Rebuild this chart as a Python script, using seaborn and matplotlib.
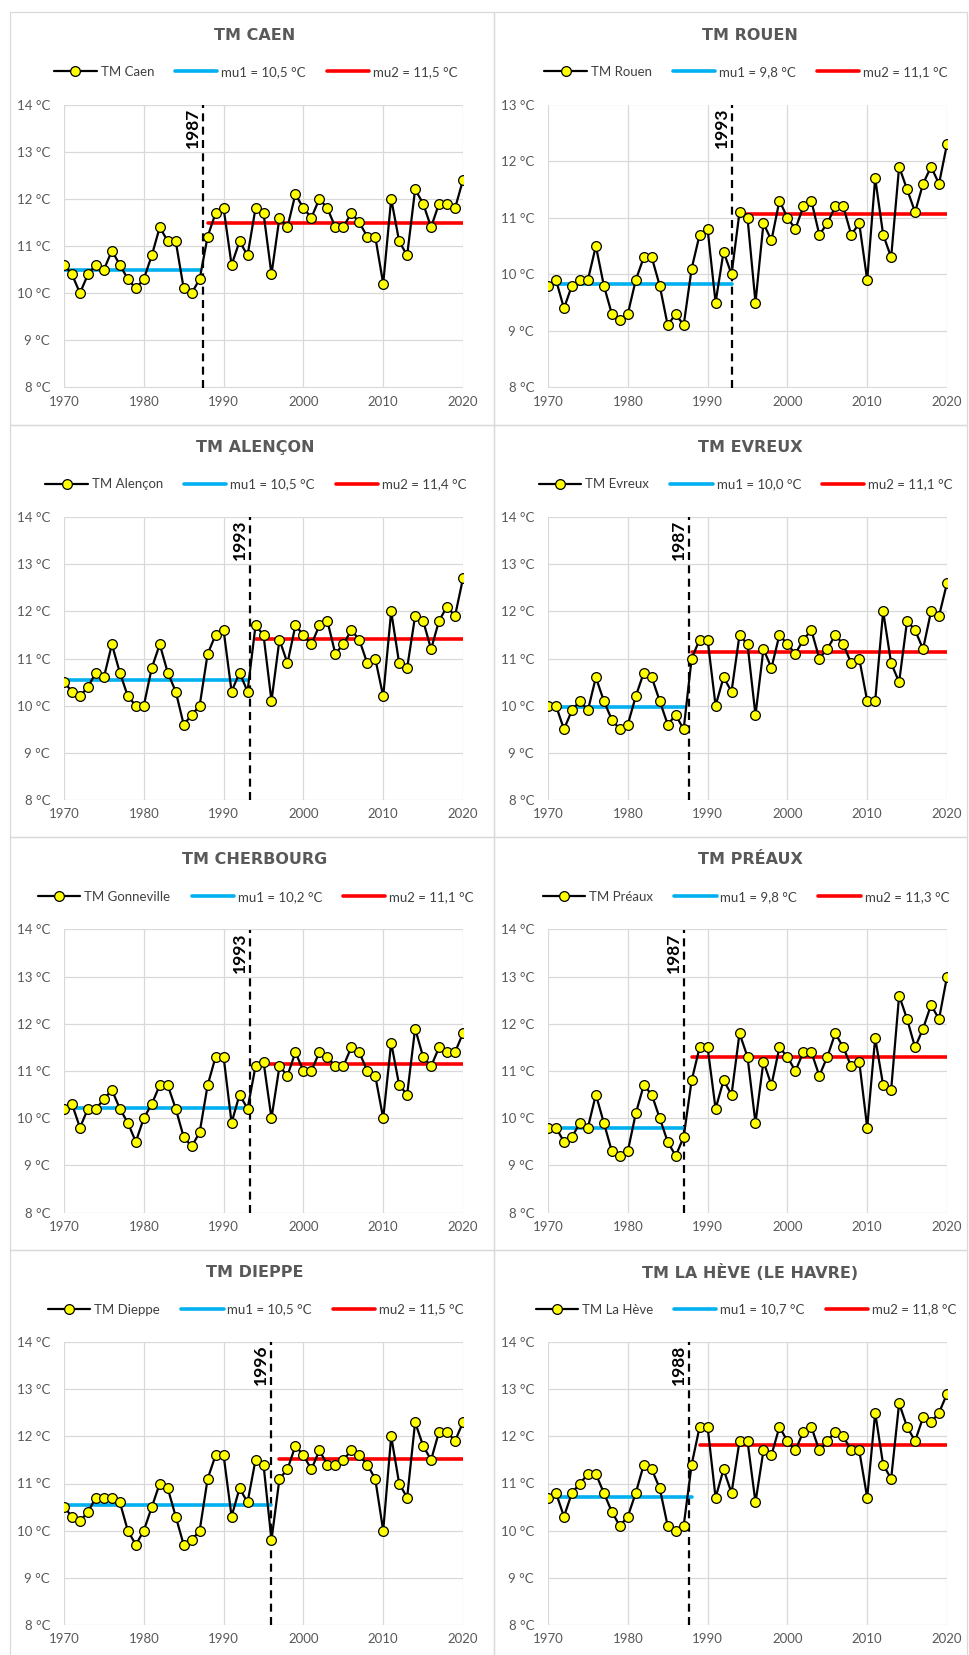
import matplotlib
matplotlib.use("Agg")
import matplotlib.pyplot as plt
import seaborn as sns
from matplotlib.lines import Line2D
from matplotlib.patches import Rectangle

# Températures moyennes annuelles, stations de Normandie
annees = list(range(1970, 2021))

titres = ["TM CAEN", "TM ROUEN", "TM ALENÇON", "TM EVREUX",
          "TM CHERBOURG", "TM PRÉAUX", "TM DIEPPE", "TM LA HÈVE (LE HAVRE)"]
stations = ["TM Caen", "TM Rouen", "TM Alençon", "TM Evreux",
            "TM Gonneville", "TM Préaux", "TM Dieppe", "TM La Hève"]

tm_caen = [10.6, 10.4, 10.0, 10.4, 10.6, 10.5, 10.9, 10.6, 10.3, 10.1,
           10.3, 10.8, 11.4, 11.1, 11.1, 10.1, 10.0, 10.3, 11.2, 11.7,
           11.8, 10.6, 11.1, 10.8, 11.8, 11.7, 10.4, 11.6, 11.4, 12.1,
           11.8, 11.6, 12.0, 11.8, 11.4, 11.4, 11.7, 11.5, 11.2, 11.2,
           10.2, 12.0, 11.1, 10.8, 12.2, 11.9, 11.4, 11.9, 11.9, 11.8,
           12.4]
tm_rouen = [9.8, 9.9, 9.4, 9.8, 9.9, 9.9, 10.5, 9.8, 9.3, 9.2,
            9.3, 9.9, 10.3, 10.3, 9.8, 9.1, 9.3, 9.1, 10.1, 10.7,
            10.8, 9.5, 10.4, 10.0, 11.1, 11.0, 9.5, 10.9, 10.6, 11.3,
            11.0, 10.8, 11.2, 11.3, 10.7, 10.9, 11.2, 11.2, 10.7, 10.9,
            9.9, 11.7, 10.7, 10.3, 11.9, 11.5, 11.1, 11.6, 11.9, 11.6,
            12.3]
tm_alencon = [10.5, 10.3, 10.2, 10.4, 10.7, 10.6, 11.3, 10.7, 10.2, 10.0,
              10.0, 10.8, 11.3, 10.7, 10.3, 9.6, 9.8, 10.0, 11.1, 11.5,
              11.6, 10.3, 10.7, 10.3, 11.7, 11.5, 10.1, 11.4, 10.9, 11.7,
              11.5, 11.3, 11.7, 11.8, 11.1, 11.3, 11.6, 11.4, 10.9, 11.0,
              10.2, 12.0, 10.9, 10.8, 11.9, 11.8, 11.2, 11.8, 12.1, 11.9,
              12.7]
tm_evreux = [10.0, 10.0, 9.5, 9.9, 10.1, 9.9, 10.6, 10.1, 9.7, 9.5,
             9.6, 10.2, 10.7, 10.6, 10.1, 9.6, 9.8, 9.5, 11.0, 11.4,
             11.4, 10.0, 10.6, 10.3, 11.5, 11.3, 9.8, 11.2, 10.8, 11.5,
             11.3, 11.1, 11.4, 11.6, 11.0, 11.2, 11.5, 11.3, 10.9, 11.0,
             10.1, 10.1, 12.0, 10.9, 10.5, 11.8, 11.6, 11.2, 12.0, 11.9,
             12.6]
tm_cherbourg = [10.2, 10.3, 9.8, 10.2, 10.2, 10.4, 10.6, 10.2, 9.9, 9.5,
                10.0, 10.3, 10.7, 10.7, 10.2, 9.6, 9.4, 9.7, 10.7, 11.3,
                11.3, 9.9, 10.5, 10.2, 11.1, 11.2, 10.0, 11.1, 10.9, 11.4,
                11.0, 11.0, 11.4, 11.3, 11.1, 11.1, 11.5, 11.4, 11.0, 10.9,
                10.0, 11.6, 10.7, 10.5, 11.9, 11.3, 11.1, 11.5, 11.4, 11.4,
                11.8]
tm_preaux = [9.8, 9.8, 9.5, 9.6, 9.9, 9.8, 10.5, 9.9, 9.3, 9.2,
             9.3, 10.1, 10.7, 10.5, 10.0, 9.5, 9.2, 9.6, 10.8, 11.5,
             11.5, 10.2, 10.8, 10.5, 11.8, 11.3, 9.9, 11.2, 10.7, 11.5,
             11.3, 11.0, 11.4, 11.4, 10.9, 11.3, 11.8, 11.5, 11.1, 11.2,
             9.8, 11.7, 10.7, 10.6, 12.6, 12.1, 11.5, 11.9, 12.4, 12.1,
             13.0]
tm_dieppe = [10.5, 10.3, 10.2, 10.4, 10.7, 10.7, 10.7, 10.6, 10.0, 9.7,
             10.0, 10.5, 11.0, 10.9, 10.3, 9.7, 9.8, 10.0, 11.1, 11.6,
             11.6, 10.3, 10.9, 10.6, 11.5, 11.4, 9.8, 11.1, 11.3, 11.8,
             11.6, 11.3, 11.7, 11.4, 11.4, 11.5, 11.7, 11.6, 11.4, 11.1,
             10.0, 12.0, 11.0, 10.7, 12.3, 11.8, 11.5, 12.1, 12.1, 11.9,
             12.3]
tm_la_heve = [10.7, 10.8, 10.3, 10.8, 11.0, 11.2, 11.2, 10.8, 10.4, 10.1,
              10.3, 10.8, 11.4, 11.3, 10.9, 10.1, 10.0, 10.1, 11.4, 12.2,
              12.2, 10.7, 11.3, 10.8, 11.9, 11.9, 10.6, 11.7, 11.6, 12.2,
              11.9, 11.7, 12.1, 12.2, 11.7, 11.9, 12.1, 12.0, 11.7, 11.7,
              10.7, 12.5, 11.4, 11.1, 12.7, 12.2, 11.9, 12.4, 12.3, 12.5,
              12.9]

series = [tm_caen, tm_rouen, tm_alencon, tm_evreux,
          tm_cherbourg, tm_preaux, tm_dieppe, tm_la_heve]

# année de rupture (étiquette) et position de la ligne pointillée
ruptures = [1987, 1993, 1993, 1987, 1993, 1987, 1996, 1988]
pos_rupture = [1987.45, 1993.05, 1993.3, 1987.7, 1993.3, 1987.1, 1995.9, 1987.7]

mu1 = [10.50, 9.83, 10.54, 9.97, 10.22, 9.79, 10.54, 10.71]
mu2 = [11.48, 11.06, 11.42, 11.13, 11.14, 11.29, 11.51, 11.82]
y_max = [14, 13, 14, 14, 14, 14, 14, 14]

sns.set_theme(style="white")
plt.rcParams["font.family"] = ["Lato", "DejaVu Sans"]

W, H = 969, 1655
fig = plt.figure(figsize=(W / 100, H / 100), dpi=100)

GRIS = "#D9D9D9"
TXT = "#595959"
BLEU = "#00B0F0"
ROUGE = "#FF0000"

col_x0 = [10, 494]
col_right = [494, 967]
titre_cx = [255, 750]
legende_cx = [256, 746]


def fmt(v):
    return f"{v:.1f}".replace(".", ",")


for i in range(8):
    r, c = divmod(i, 2)
    top = 12 + 412.5 * r

    # cadre du panneau
    fig.patches.append(Rectangle((col_x0[c] / W, 1 - (top + 412.5) / H),
                                 (col_right[c] - col_x0[c]) / W, 412.5 / H,
                                 transform=fig.transFigure, fill=False,
                                 edgecolor=GRIS, lw=0.9))

    ax_top = top + 92.5
    ax = fig.add_axes([(col_x0[c] + 54) / W, 1 - (ax_top + 283) / H,
                       399 / W, 283 / H])

    sns.lineplot(x=annees, y=series[i], ax=ax, color="black", lw=1.6,
                 marker="o", markersize=7, markerfacecolor="#FFFF00",
                 markeredgecolor="black", markeredgewidth=0.9, zorder=4)
    sns.lineplot(x=[1970, ruptures[i]], y=[mu1[i], mu1[i]], ax=ax,
                 color=BLEU, lw=2.6, zorder=3)
    sns.lineplot(x=[ruptures[i] + 1, 2020], y=[mu2[i], mu2[i]], ax=ax,
                 color=ROUGE, lw=2.6, zorder=3)

    ax.axvline(pos_rupture[i], color="black", lw=1.6,
               ls=(0, (3.6, 2.4)), zorder=2)
    ax.annotate(str(ruptures[i]), xy=(pos_rupture[i], 1),
                xycoords=("data", "axes fraction"), xytext=(-1.5, -2),
                textcoords="offset points", rotation=90, ha="right",
                va="top", fontsize=12.5, fontweight="bold", color="black")

    ax.set_xlim(1970, 2020)
    ax.set_ylim(8, y_max[i])
    ax.set_xticks(range(1970, 2021, 10))
    ax.set_yticks(range(8, y_max[i] + 1))
    ax.set_yticklabels([f"{v} °C" for v in range(8, y_max[i] + 1)])
    ax.grid(True, color=GRIS, lw=0.9)
    ax.set_axisbelow(True)
    for s in ax.spines.values():
        s.set_visible(False)
    ax.tick_params(axis="y", length=0, pad=10, labelsize=9.5, labelcolor=TXT)
    ax.tick_params(axis="x", length=0, pad=6, labelsize=9.5, labelcolor=TXT)
    ax.set_xlabel("")
    ax.set_ylabel("")

    fig.text(titre_cx[c] / W, 1 - (top + 23) / H, titres[i],
             ha="center", va="center", fontsize=11.5, fontweight="bold",
             color=TXT, family=["DejaVu Sans"])

    poignees = [
        Line2D([], [], color="black", lw=1.6, marker="o", markersize=7,
               markerfacecolor="#FFFF00", markeredgecolor="black",
               markeredgewidth=0.9),
        Line2D([], [], color=BLEU, lw=2.6),
        Line2D([], [], color=ROUGE, lw=2.6),
    ]
    etiquettes = [stations[i], f"mu1 = {fmt(mu1[i])} °C",
                  f"mu2 = {fmt(mu2[i])} °C"]
    leg = ax.legend(poignees, etiquettes, loc="center", ncol=3,
                    bbox_to_anchor=(legende_cx[c] / W, 1 - (top + 60) / H),
                    bbox_transform=fig.transFigure, frameon=False,
                    fontsize=9.5, handlelength=3.2, handletextpad=0.3,
                    columnspacing=1.6, numpoints=1)
    for t in leg.get_texts():
        t.set_color("#404040")

fig.savefig("out.png", dpi=100)
